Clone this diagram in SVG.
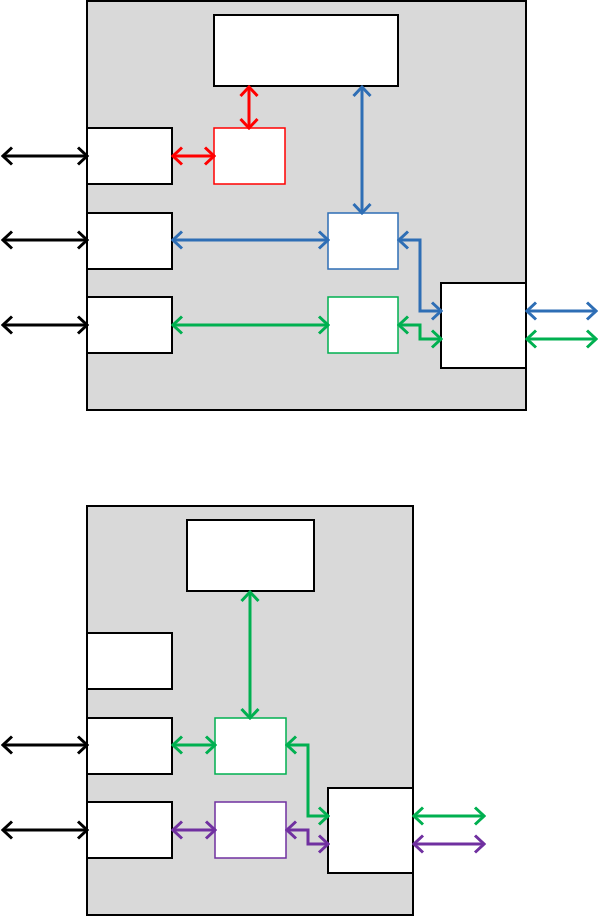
<svg xmlns="http://www.w3.org/2000/svg" width="598" height="916" viewBox="0 0 598 916">
<style>
.panel{fill:#D9D9D9;stroke:#000;stroke-width:2}
.box{fill:#fff;stroke:#000;stroke-width:2}
.c{fill:none;stroke-width:3;stroke-linejoin:miter}
.k{stroke:#000}.r{stroke:#FF0000}.b{stroke:#2E6EB5}.g{stroke:#00B050}.p{stroke:#7030A0}
</style>
<defs>
<marker id="mk" viewBox="-12 -12 14 24" markerWidth="14" markerHeight="24" refX="0" refY="0" orient="auto-start-reverse" markerUnits="userSpaceOnUse"><path d="M-9,-8.5 L0,0 L-9,8.5" fill="none" stroke="#000" stroke-width="3"/></marker>
<marker id="mr" viewBox="-12 -12 14 24" markerWidth="14" markerHeight="24" refX="0" refY="0" orient="auto-start-reverse" markerUnits="userSpaceOnUse"><path d="M-9,-8.5 L0,0 L-9,8.5" fill="none" stroke="#FF0000" stroke-width="3"/></marker>
<marker id="mb" viewBox="-12 -12 14 24" markerWidth="14" markerHeight="24" refX="0" refY="0" orient="auto-start-reverse" markerUnits="userSpaceOnUse"><path d="M-9,-8.5 L0,0 L-9,8.5" fill="none" stroke="#2E6EB5" stroke-width="3"/></marker>
<marker id="mg" viewBox="-12 -12 14 24" markerWidth="14" markerHeight="24" refX="0" refY="0" orient="auto-start-reverse" markerUnits="userSpaceOnUse"><path d="M-9,-8.5 L0,0 L-9,8.5" fill="none" stroke="#00B050" stroke-width="3"/></marker>
<marker id="mp" viewBox="-12 -12 14 24" markerWidth="14" markerHeight="24" refX="0" refY="0" orient="auto-start-reverse" markerUnits="userSpaceOnUse"><path d="M-9,-8.5 L0,0 L-9,8.5" fill="none" stroke="#7030A0" stroke-width="3"/></marker>
</defs>
<g id="panel1"><rect class="panel" x="87" y="1" width="439" height="409"/></g>
<g id="panel2"><rect class="panel" x="87" y="506" width="326" height="409"/></g>
<g id="t-top"><rect class="box" x="214" y="15" width="184" height="71"/></g>
<g id="t-l1"><rect class="box" x="87" y="128" width="85" height="56"/></g>
<g id="t-l2"><rect class="box" x="87" y="213" width="85" height="56"/></g>
<g id="t-l3"><rect class="box" x="87" y="297" width="85" height="56"/></g>
<g id="t-red"><rect class="box" style="stroke:#FF0000;stroke-width:1.5" x="214" y="128" width="71" height="56"/></g>
<g id="t-blue"><rect class="box" style="stroke:#2E6EB5;stroke-width:1.5" x="328" y="213" width="70" height="56"/></g>
<g id="t-green"><rect class="box" style="stroke:#00B050;stroke-width:1.5" x="328" y="297" width="70" height="56"/></g>
<g id="t-right"><rect class="box" x="441" y="283" width="85" height="85"/></g>
<g id="b-top"><rect class="box" x="187" y="520" width="127" height="71"/></g>
<g id="b-l1"><rect class="box" x="87" y="633" width="85" height="56"/></g>
<g id="b-l2"><rect class="box" x="87" y="718" width="85" height="56"/></g>
<g id="b-l3"><rect class="box" x="87" y="802" width="85" height="56"/></g>
<g id="b-green"><rect class="box" style="stroke:#00B050;stroke-width:1.5" x="215" y="718" width="71" height="56"/></g>
<g id="b-purple"><rect class="box" style="stroke:#7030A0;stroke-width:1.5" x="215" y="802" width="71" height="56"/></g>
<g id="b-right"><rect class="box" x="328" y="788" width="85" height="85"/></g>
<g id="connectors">
<path class="c k" d="M3,156 H87" marker-start="url(#mk)" marker-end="url(#mk)"/>
<path class="c k" d="M3,240 H87" marker-start="url(#mk)" marker-end="url(#mk)"/>
<path class="c k" d="M3,325 H87" marker-start="url(#mk)" marker-end="url(#mk)"/>
<path class="c r" d="M173,156 H214" marker-start="url(#mr)" marker-end="url(#mr)"/>
<path class="c r" d="M249,87 V128" marker-start="url(#mr)" marker-end="url(#mr)"/>
<path class="c b" d="M362,87 V213" marker-start="url(#mb)" marker-end="url(#mb)"/>
<path class="c b" d="M173,240 H328" marker-start="url(#mb)" marker-end="url(#mb)"/>
<path class="c b" d="M399,240 H420 V311 H441" marker-start="url(#mb)" marker-end="url(#mb)"/>
<path class="c b" d="M527,311 H596" marker-start="url(#mb)" marker-end="url(#mb)"/>
<path class="c g" d="M173,325 H328" marker-start="url(#mg)" marker-end="url(#mg)"/>
<path class="c g" d="M399,325 H420 V339 H441" marker-start="url(#mg)" marker-end="url(#mg)"/>
<path class="c g" d="M527,339 H596" marker-start="url(#mg)" marker-end="url(#mg)"/>
<path class="c k" d="M3,745 H87" marker-start="url(#mk)" marker-end="url(#mk)"/>
<path class="c k" d="M3,830 H87" marker-start="url(#mk)" marker-end="url(#mk)"/>
<path class="c g" d="M250,592 V718" marker-start="url(#mg)" marker-end="url(#mg)"/>
<path class="c g" d="M173,745 H215" marker-start="url(#mg)" marker-end="url(#mg)"/>
<path class="c g" d="M287,745 H308 V816 H328" marker-start="url(#mg)" marker-end="url(#mg)"/>
<path class="c g" d="M414,816 H484" marker-start="url(#mg)" marker-end="url(#mg)"/>
<path class="c p" d="M173,830 H215" marker-start="url(#mp)" marker-end="url(#mp)"/>
<path class="c p" d="M287,830 H308 V844 H328" marker-start="url(#mp)" marker-end="url(#mp)"/>
<path class="c p" d="M414,844 H484" marker-start="url(#mp)" marker-end="url(#mp)"/>
</g>
</svg>
